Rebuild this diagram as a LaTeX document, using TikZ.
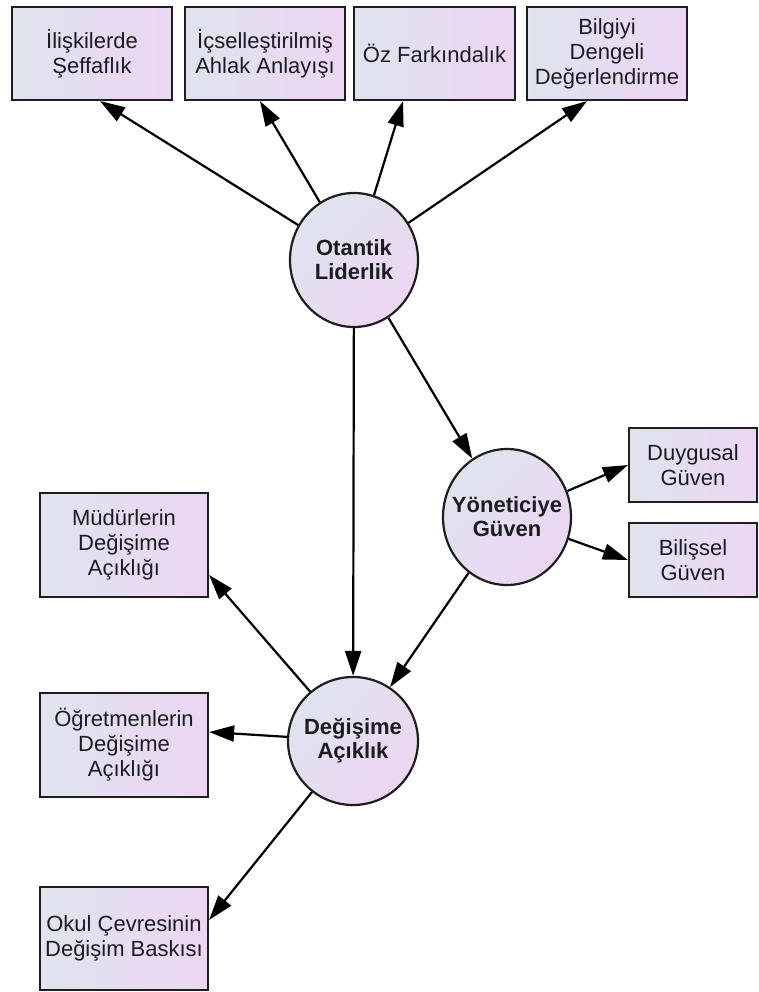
\documentclass[tikz,border=0pt]{standalone}
\usepackage{fontspec}
\setmainfont{Liberation Sans}
\usetikzlibrary{arrows.meta,shapes.geometric}
\definecolor{boxL}{RGB}{223,228,238}
\definecolor{boxR}{RGB}{237,214,243}
\definecolor{edge}{RGB}{30,30,30}
\definecolor{ink}{RGB}{28,28,32}

\begin{document}
\begin{tikzpicture}[x=1pt,y=-1pt,
  item/.style={draw=edge, line width=2.2pt, left color=boxL, right color=boxR,
    align=center, text=ink, inner sep=0pt,
    font=\fontsize{22}{25}\selectfont},
  latent/.style={ellipse, draw=edge, line width=2.2pt,
    top color=boxL, bottom color=boxR, shading angle=45,
    align=center, text=ink, inner xsep=-30pt, inner ysep=0pt,
    font=\fontsize{22}{24}\selectfont\bfseries},
  arr/.style={draw=black, line width=2.2pt,
    -{Triangle[length=25pt,width=16pt]}}]

\useasboundingbox (0,0) rectangle (759,992);

% indicator boxes of the authentic leadership factor
\node[item, minimum width=160pt, minimum height=93pt] (b1) at (92,53.5) {İlişkilerde\\Şeffaflık};
\node[item, minimum width=160pt, minimum height=93pt] (b2) at (265,53.5) {İçselleştirilmiş\\Ahlak Anlayışı};
\node[item, minimum width=161pt, minimum height=93pt] (b3) at (434.5,53.5) {Öz Farkındalık};
\node[item, minimum width=160pt, minimum height=93pt] (b4) at (607,53.5) {Bilgiyi\\Dengeli\\Değerlendirme};

% indicators of trust
\node[item, minimum width=128pt, minimum height=74pt] (duy) at (693,465) {Duygusal\\Güven};
\node[item, minimum width=128pt, minimum height=74pt] (bil) at (693,560) {Bilişsel\\Güven};

% indicators of openness to change
\node[item, minimum width=168pt, minimum height=104pt] (mud) at (124,545) {Müdürlerin\\Değişime\\Açıklığı};
\node[item, minimum width=168pt, minimum height=104pt] (ogr) at (124,745) {Öğretmenlerin\\Değişime\\Açıklığı};
\node[item, minimum width=168pt, minimum height=103pt] (okul) at (124,938.5) {Okul Çevresinin\\Değişim Baskısı};

% latent variables
\node[latent, minimum width=128pt, minimum height=134pt] (OL) at (354,260) {Otantik\\Liderlik};
\node[latent, minimum width=128pt, minimum height=136pt] (YG) at (507,517) {Yöneticiye\\Güven};
\node[latent, minimum width=130pt, minimum height=128pt] (DA) at (353,741) {Değişime\\Açıklık};

% paths
\draw[arr] (OL) -- ([xshift=8pt]b1.south);
\draw[arr] (OL) -- ([xshift=-5pt]b2.south);
\draw[arr] (OL) -- ([xshift=-31.5pt]b3.south);
\draw[arr] (OL) -- ([xshift=-20pt]b4.south);
\draw[arr] (OL) -- (YG);
\draw[arr] (OL) -- (DA);
\draw[arr] (YG) -- (duy.west);
\draw[arr] (YG) -- (bil.west);
\draw[arr] (YG) -- (DA);
\draw[arr] (DA) -- ([yshift=-30pt]mud.east);
\draw[arr] (DA) -- ([yshift=13pt]ogr.east);
\draw[arr] (DA) -- ([yshift=18.5pt]okul.east);
\end{tikzpicture}
\end{document}
